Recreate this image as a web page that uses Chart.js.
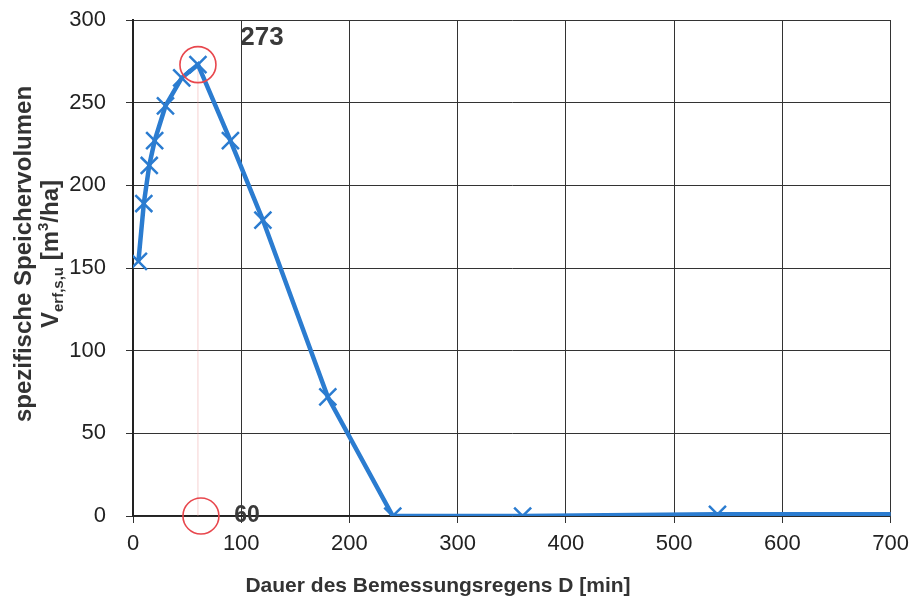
<!DOCTYPE html>
<html lang="de">
<head>
    <meta charset="UTF-8">
    <title>Spezifisches Speichervolumen</title>
    <script src="https://cdn.jsdelivr.net/npm/chart.js@4.4.1/dist/chart.umd.min.js"></script>
    <style>
        body {
            margin: 0;
            padding: 0;
            background: #ffffff;
        }
        #chart {
            display: block;
        }
    </style>
</head>
<body>
    <canvas id="chart" width="917" height="602"></canvas>
    <script>
        // Dauer D [min] und spezifisches Speichervolumen [m3/ha]
        const durations = [5, 10, 15, 20, 30, 45, 60, 90, 120, 180, 240, 360, 540, 720];
        const volumes = [154, 189, 212, 227, 248, 265, 273, 227, 179, 72, 0, 0, 1, 1];

        // Maximum (markiert mit Kreisen)
        const peakDuration = 60;
        const peakVolume = 273;

        const xTicks = [0, 100, 200, 300, 400, 500, 600, 700];
        const yTicks = [0, 50, 100, 150, 200, 250, 300];

        const blue = '#2b7cd0';
        const textColor = '#333333';

        // Achsentitel und Markierungen selbst zeichnen (Index im y-Titel)
        const decorPlugin = {
            id: 'decor',
            beforeDatasetsDraw(chart) {
                const c = chart.ctx;
                const xs = chart.scales.x, ys = chart.scales.y;
                const px = xs.getPixelForValue(peakDuration);
                c.save();
                c.strokeStyle = 'rgba(235, 150, 150, 0.45)';
                c.lineWidth = 1;
                c.beginPath();
                c.moveTo(px, ys.getPixelForValue(peakVolume));
                c.lineTo(px, ys.getPixelForValue(0));
                c.stroke();
                c.restore();
            },
            afterDatasetsDraw(chart) {
                const c = chart.ctx;
                const xs = chart.scales.x, ys = chart.scales.y;
                const px = xs.getPixelForValue(peakDuration);
                const pyTop = ys.getPixelForValue(peakVolume);
                const pyBot = ys.getPixelForValue(0);
                c.save();
                c.strokeStyle = '#e8474d';
                c.lineWidth = 1.6;
                c.beginPath();
                c.arc(px, pyTop, 18, 0, Math.PI * 2);
                c.stroke();
                c.beginPath();
                c.arc(px + 3, pyBot, 18, 0, Math.PI * 2);
                c.stroke();

                c.fillStyle = '#3a3a3a';
                c.textAlign = 'center';
                c.textBaseline = 'middle';
                c.font = 'bold 26px "Liberation Sans", Arial, sans-serif';
                c.fillText(String(peakVolume), px + 64, pyTop - 27);
                c.font = 'bold 23px "Liberation Sans", Arial, sans-serif';
                c.fillText(String(peakDuration), px + 49, pyBot);
                c.restore();
            },
            afterDraw(chart) {
                const c = chart.ctx;
                c.save();
                c.fillStyle = textColor;

                // x-Titel
                c.font = 'bold 21px "Liberation Sans", Arial, sans-serif';
                c.textAlign = 'center';
                c.textBaseline = 'alphabetic';
                c.fillText('Dauer des Bemessungsregens D [min]', 438, 592);

                // y-Titel, zwei Zeilen, gedreht
                const cy = 254;
                c.save();
                c.translate(31, cy);
                c.rotate(-Math.PI / 2);
                c.font = 'bold 24px "Liberation Sans", Arial, sans-serif';
                c.textAlign = 'center';
                c.fillText('spezifische Speichervolumen', 0, 0);
                c.restore();

                c.save();
                c.translate(58, cy);
                c.rotate(-Math.PI / 2);
                const big = 'bold 24px "Liberation Sans", Arial, sans-serif';
                const small = 'bold 15px "Liberation Sans", Arial, sans-serif';
                const p1 = 'V', sub = 'erf,s,u', p2 = ' [m', sup = '3', p3 = '/ha]';
                c.font = big;
                const w1 = c.measureText(p1).width, w2 = c.measureText(p2).width, w3 = c.measureText(p3).width;
                c.font = small;
                const ws = c.measureText(sub).width, wsup = c.measureText(sup).width;
                let x = -(w1 + ws + w2 + wsup + w3) / 2;
                c.textAlign = 'left';
                c.font = big;
                c.fillText(p1, x, 0); x += w1;
                c.font = small;
                c.fillText(sub, x, 5); x += ws;
                c.font = big;
                c.fillText(p2, x, 0); x += w2;
                c.font = small;
                c.fillText(sup, x, -10); x += wsup;
                c.font = big;
                c.fillText(p3, x, 0);
                c.restore();

                c.restore();
            }
        };

        const ctx = document.getElementById('chart').getContext('2d');
        const chart = new Chart(ctx, {
            type: 'line',
            data: {
                datasets: [{
                    data: durations.map((d, i) => ({ x: d, y: volumes[i] })),
                    borderColor: blue,
                    borderWidth: 4.5,
                    tension: 0,
                    pointStyle: 'crossRot',
                    pointRadius: 12,
                    pointBorderWidth: 2.5,
                    pointBorderColor: blue,
                    pointBackgroundColor: blue,
                    fill: false
                }]
            },
            options: {
                responsive: false,
                animation: false,
                layout: { padding: { left: 0, top: 20, right: 26, bottom: 0 } },
                plugins: {
                    legend: { display: false },
                    tooltip: { enabled: false }
                },
                scales: {
                    x: {
                        type: 'linear',
                        min: 0,
                        max: 700,
                        afterFit(scale) { scale.height = 86; },
                        afterBuildTicks(scale) { scale.ticks = xTicks.map(v => ({ value: v })); },
                        grid: { color: '#333333', lineWidth: 1, tickLength: 7 },
                        border: { color: '#222222', width: 1.5 },
                        ticks: {
                            color: '#222222',
                            padding: 8,
                            maxRotation: 0,
                            font: { family: '"Liberation Sans", Arial, sans-serif', size: 22 }
                        }
                    },
                    y: {
                        type: 'linear',
                        min: 0,
                        max: 300,
                        afterFit(scale) {
                            scale.width = 133;
                            scale.paddingTop = 0;
                            scale.paddingBottom = 0;
                        },
                        afterBuildTicks(scale) { scale.ticks = yTicks.map(v => ({ value: v })); },
                        grid: { color: '#333333', lineWidth: 1, tickLength: 7 },
                        border: { color: '#222222', width: 2 },
                        ticks: {
                            color: '#222222',
                            padding: 20,
                            font: { family: '"Liberation Sans", Arial, sans-serif', size: 22 }
                        }
                    }
                }
            },
            plugins: [decorPlugin]
        });
    </script>
</body>
</html>
